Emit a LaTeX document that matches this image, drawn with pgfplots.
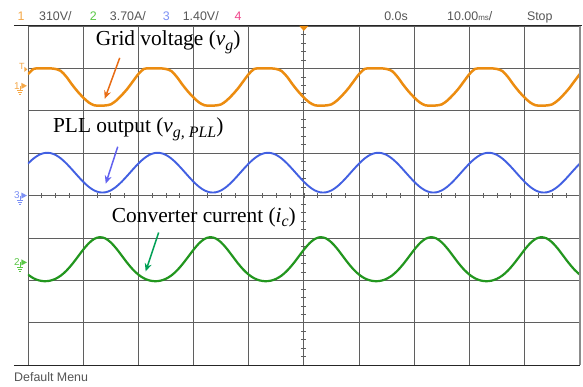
\documentclass[border=0pt]{standalone}
\usepackage{pgfplots}
\pgfplotsset{compat=1.18}
\usepackage{pgfplotstable}
\usepackage{fontspec}
\setmainfont{Liberation Serif}
\newfontfamily\scopefont{Liberation Sans}
\usetikzlibrary{arrows.meta}
\definecolor{orgtrace}{RGB}{236,140,16}
\definecolor{bluetrace}{RGB}{66,96,226}
\definecolor{grntrace}{RGB}{34,150,30}
\definecolor{gridc}{RGB}{95,95,95}
\definecolor{orarrow}{RGB}{232,108,20}
\definecolor{bluarrow}{RGB}{98,98,240}
\definecolor{grnarrow}{RGB}{0,160,85}
\definecolor{hdr}{RGB}{85,85,85}
\definecolor{ch1}{RGB}{245,168,72}
\definecolor{ch2}{RGB}{90,200,70}
\definecolor{ch3}{RGB}{125,145,245}
\definecolor{ch4}{RGB}{240,70,140}
% t in ms, values in divisions (centre = 0)
\pgfplotstableread{
t o b g
0 2.862 0.753 -1.863
1 2.985 0.872 -1.950
2 3.000 0.959 -2.001
3 3.000 1.004 -2.020
4 3.000 1.004 -2.008
5 2.985 0.959 -1.963
6 2.935 0.872 -1.884
7 2.796 0.753 -1.768
8 2.616 0.613 -1.620
9 2.454 0.467 -1.451
10 2.314 0.327 -1.279
11 2.197 0.208 -1.128
12 2.130 0.121 -1.023
13 2.120 0.076 -0.981
14 2.125 0.076 -1.009
15 2.150 0.121 -1.103
16 2.240 0.208 -1.246
17 2.368 0.327 -1.416
18 2.515 0.467 -1.588
19 2.689 0.613 -1.741
20 2.862 0.753 -1.863
21 2.985 0.872 -1.950
22 3.000 0.959 -2.001
23 3.000 1.004 -2.020
24 3.000 1.004 -2.008
25 2.985 0.959 -1.963
26 2.935 0.872 -1.884
27 2.796 0.753 -1.768
28 2.616 0.613 -1.620
29 2.454 0.467 -1.451
30 2.314 0.327 -1.279
31 2.197 0.208 -1.128
32 2.130 0.121 -1.023
33 2.120 0.076 -0.981
34 2.125 0.076 -1.009
35 2.150 0.121 -1.103
36 2.240 0.208 -1.246
37 2.368 0.327 -1.416
38 2.515 0.467 -1.588
39 2.689 0.613 -1.741
40 2.862 0.753 -1.863
41 2.985 0.872 -1.950
42 3.000 0.959 -2.001
43 3.000 1.004 -2.020
44 3.000 1.004 -2.008
45 2.985 0.959 -1.963
46 2.935 0.872 -1.884
47 2.796 0.753 -1.768
48 2.616 0.613 -1.620
49 2.454 0.467 -1.451
50 2.314 0.327 -1.279
51 2.197 0.208 -1.128
52 2.130 0.121 -1.023
53 2.120 0.076 -0.981
54 2.125 0.076 -1.009
55 2.150 0.121 -1.103
56 2.240 0.208 -1.246
57 2.368 0.327 -1.416
58 2.515 0.467 -1.588
59 2.689 0.613 -1.741
60 2.862 0.753 -1.863
61 2.985 0.872 -1.950
62 3.000 0.959 -2.001
63 3.000 1.004 -2.020
64 3.000 1.004 -2.008
65 2.985 0.959 -1.963
66 2.935 0.872 -1.884
67 2.796 0.753 -1.768
68 2.616 0.613 -1.620
69 2.454 0.467 -1.451
70 2.314 0.327 -1.279
71 2.197 0.208 -1.128
72 2.130 0.121 -1.023
73 2.120 0.076 -0.981
74 2.125 0.076 -1.009
75 2.150 0.121 -1.103
76 2.240 0.208 -1.246
77 2.368 0.327 -1.416
78 2.515 0.467 -1.588
79 2.689 0.613 -1.741
80 2.862 0.753 -1.863
81 2.985 0.872 -1.950
82 3.000 0.959 -2.001
83 3.000 1.004 -2.020
84 3.000 1.004 -2.008
85 2.985 0.959 -1.963
86 2.935 0.872 -1.884
87 2.796 0.753 -1.768
88 2.616 0.613 -1.620
89 2.454 0.467 -1.451
90 2.314 0.327 -1.279
91 2.197 0.208 -1.128
92 2.130 0.121 -1.023
93 2.120 0.076 -0.981
94 2.125 0.076 -1.009
95 2.150 0.121 -1.103
96 2.240 0.208 -1.246
97 2.368 0.327 -1.416
98 2.515 0.467 -1.588
99 2.689 0.613 -1.741
100 2.862 0.753 -1.863
}\wavedata
\newcommand{\chmark}[3]{%
  \node[text=#1, font=\scopefont\fontsize{10}{10}\selectfont, anchor=east, inner sep=0pt] at (20,#3) {#2};
  \draw[#1, line width=0.7bp] (20.5,#3) -- (20.5,#3+5);
  \draw[#1, line width=0.7bp] (17.5,#3+5) -- (23.5,#3+5);
  \draw[#1, line width=0.7bp] (18.5,#3+7) -- (22.5,#3+7);
  \draw[#1, line width=0.7bp] (19.5,#3+9) -- (21.5,#3+9);
  \fill[#1] (21.5,#3-3) -- (27,#3) -- (21.5,#3+3) -- cycle;
}
\newcommand{\sub}[1]{\raisebox{-4.5bp}{\fontsize{16}{16}\selectfont\textit{#1}}}
\begin{document}
\begin{tikzpicture}
\begin{scope}[x=1bp,y=-1bp]
\useasboundingbox (0,0) rectangle (583,387);
\fill[white] (0,0) rectangle (583,387);
\foreach \k in {1,...,39} {\draw[gridc, line width=0.6bp] ({28+\k*13.825},193.5) -- ({28+\k*13.825},198.5);}
\foreach \k in {1,...,39} {\draw[gridc, line width=0.6bp] (302,{26+\k*8.5}) -- (307,{26+\k*8.5});}
\end{scope}
\begin{axis}[
  at={(28bp,-366bp)}, anchor=south west,
  scale only axis, width=553bp, height=340bp,
  xmin=0, xmax=100, ymin=-4, ymax=4,
  xtick={0,10,...,100}, ytick={-4,-3,...,4},
  xticklabels={}, yticklabels={},
  tick style={draw=none},
  grid=major, grid style={draw=gridc, line width=0.8bp},
  axis line style={draw=none},
  clip=true]
\addplot[no markers, smooth, draw=orgtrace, line width=2.5bp, line join=round] table[x=t,y=o]{\wavedata};
\addplot[no markers, smooth, draw=bluetrace, line width=1.9bp] table[x=t,y=b]{\wavedata};
\addplot[no markers, smooth, draw=grntrace, line width=2.2bp] table[x=t,y=g]{\wavedata};
\end{axis}
\begin{scope}[x=1bp,y=-1bp]
% frame
\draw[black!85, line width=1bp] (14,26) -- (583,26);
\draw[black!85, line width=1bp] (14,366) -- (581,366);
\draw[black!45, line width=1.6bp] (581.5,26) -- (581.5,366);
% trigger marker
\fill[orgtrace] (300,26) -- (309,26) -- (304.5,31) -- cycle;
% header
\begin{scope}[every node/.style={anchor=base west, inner sep=0pt, font=\scopefont\fontsize{12.5}{12.5}\selectfont}]
\node[text=ch1] at (17.5,21) {1};
\node[text=hdr] at (39,21) {310V/};
\node[text=ch2] at (90,21) {2};
\node[text=hdr] at (110,21) {3.70A/};
\node[text=ch3] at (163,21) {3};
\node[text=hdr] at (183,21) {1.40V/};
\node[text=ch4] at (235,21) {4};
\node[text=hdr] at (385,21) {0.0s};
\node[text=hdr] at (448,21) {10.00{\fontsize{8}{8}\selectfont ms}/};
\node[text=hdr] at (528,21) {Stop};
\node[text=hdr] at (14,382) {Default Menu};
\end{scope}
% channel markers
\node[text=ch1, font=\scopefont\fontsize{9}{9}\selectfont, inner sep=0pt] at (22,67) {T};
\fill[ch1] (24.5,67) -- (27.5,69.5) -- (24.5,72) -- cycle;
\chmark{ch1}{1}{86}
\chmark{ch3}{3}{196}
\chmark{ch2}{2}{263}
% annotations
\node[anchor=base west, inner sep=0pt, font=\fontsize{21.5}{21.5}\selectfont] at (96,46) {Grid voltage (\textit{v}\sub{g})};
\node[anchor=base west, inner sep=0pt, font=\fontsize{21.5}{21.5}\selectfont] at (53,133) {PLL output (\textit{v}\sub{g,\ PLL})};
\node[anchor=base west, inner sep=0pt, font=\fontsize{21.5}{21.5}\selectfont] at (112,223) {Converter current (\textit{i}\sub{c})};
\draw[orarrow, line width=1.5bp, -{Stealth[length=8bp,width=7bp]}] (120,58) -- (105,99);
\draw[bluarrow, line width=1.5bp, -{Stealth[length=8bp,width=7bp]}] (118,147) -- (106,184);
\draw[grnarrow, line width=1.5bp, -{Stealth[length=8bp,width=7bp]}] (159,233) -- (146,272);
\end{scope}
\end{tikzpicture}
\end{document}
